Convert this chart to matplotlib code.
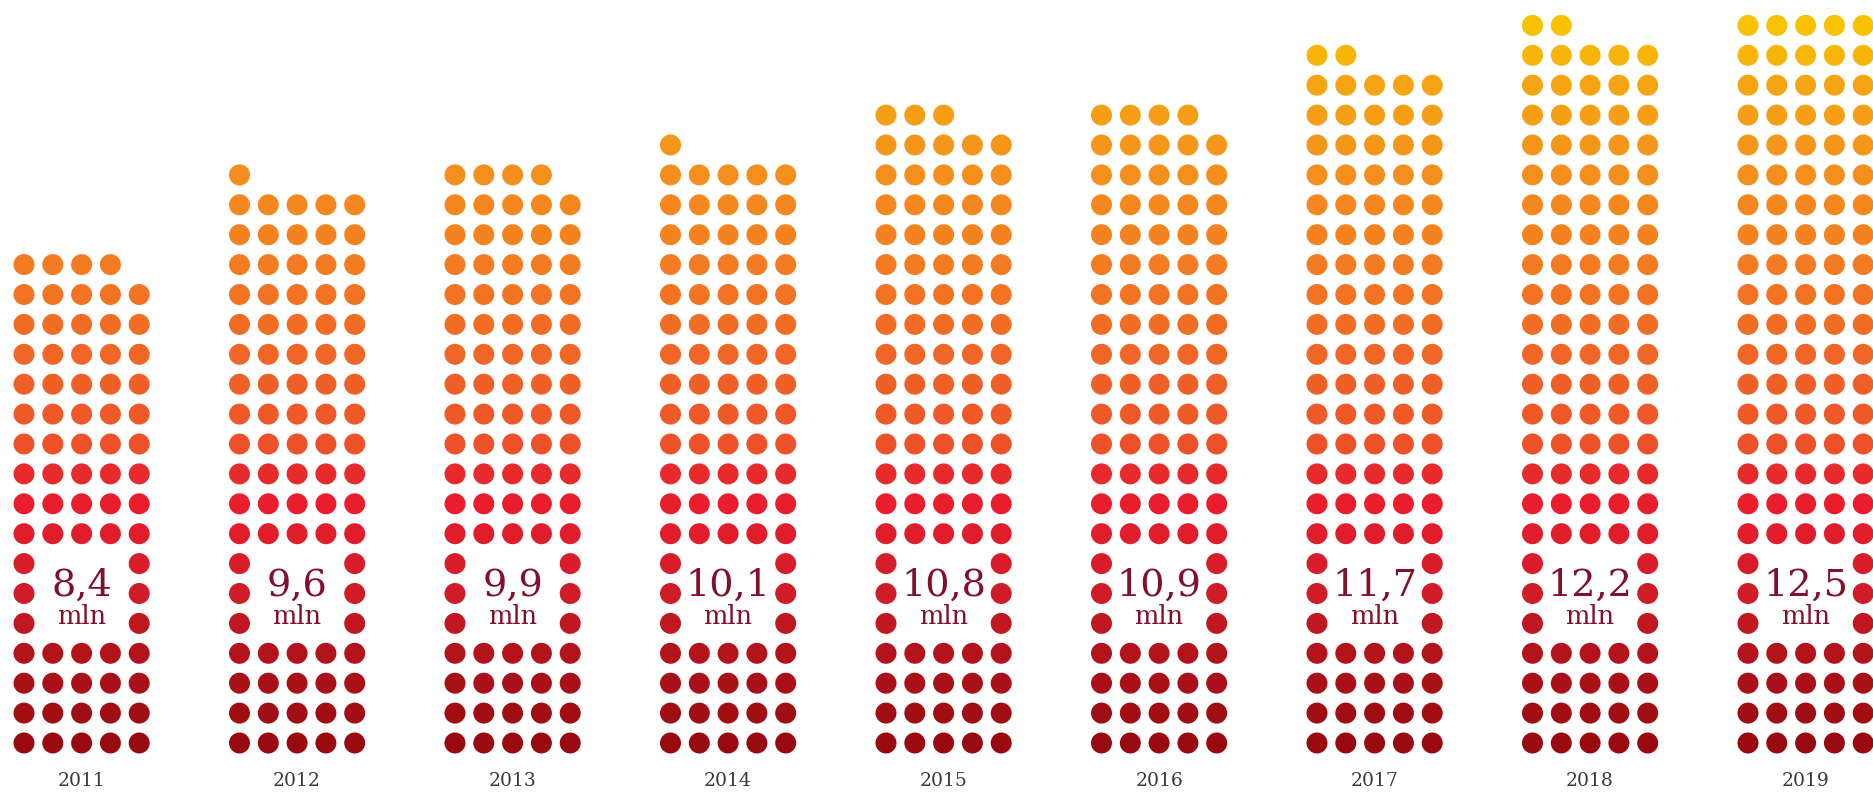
import matplotlib.pyplot as plt
from matplotlib.colors import LinearSegmentedColormap

# Numero di titolari per anno (milioni); ogni pallino = 0,1 mln
years = ["2011", "2012", "2013", "2014", "2015", "2016", "2017", "2018", "2019"]
values = [8.4, 9.6, 9.9, 10.1, 10.8, 10.9, 11.7, 12.2, 12.5]
value_labels = ["8,4", "9,6", "9,9", "10,1", "10,8", "10,9", "11,7", "12,2", "12,5"]
unit_label = "mln"

PER_DOT = 0.1
PER_ROW = 5
LABEL_ROWS = (4, 5, 6)   # righe dove i pallini centrali lasciano posto all'etichetta

# geometria in pixel
W, H = 1873, 798
x0, group_step, col_step = 24, 215.5, 28.8
y0, row_step = 743, 29.9
dot_d = 21

# sfumatura per riga: rosso scuro in basso, giallo in alto
stops = [
    (0 / 24, "#980a10"),
    (3 / 24, "#b3131a"),
    (5 / 24, "#cf1c27"),
    (8 / 24, "#ea1d2d"),
    (9 / 24, "#e72a2d"),
    (10 / 24, "#ed5228"),
    (13 / 24, "#f06626"),
    (16 / 24, "#f37b21"),
    (19 / 24, "#f48e1c"),
    (22 / 24, "#f5a514"),
    (24 / 24, "#f8c200"),
]
cmap = LinearSegmentedColormap.from_list("dots", stops)

fig = plt.figure(figsize=(W / 100, H / 100), dpi=100)
ax = fig.add_axes([0, 0, 1, 1])
ax.set_xlim(0, W)
ax.set_ylim(H, 0)
ax.axis("off")

size = (dot_d * 72 / 100) ** 2
for i, (year, val, lab) in enumerate(zip(years, values, value_labels)):
    n = int(round(val / PER_DOT))
    gx = x0 + i * group_step
    xs, ys, cs = [], [], []
    for k in range(n):
        row, col = divmod(k, PER_ROW)
        if row in LABEL_ROWS and 0 < col < PER_ROW - 1:
            continue
        xs.append(gx + col * col_step)
        ys.append(y0 - row * row_step)
        cs.append(cmap(min(row, 24) / 24))
    ax.scatter(xs, ys, s=size, c=cs, linewidths=0)

    cx = gx + 2 * col_step
    ax.text(cx, 596, lab, ha="center", va="baseline", fontsize=27.5,
            family="DejaVu Serif", color="#82102a")
    ax.text(cx, 624, unit_label, ha="center", va="baseline", fontsize=18.5,
            family="DejaVu Serif", color="#82102a")
    ax.text(cx, 781, year, ha="center", va="center", fontsize=13.5,
            family="DejaVu Serif", color="#3a3a3a")

fig.savefig("out.png", dpi=100, facecolor="white")
